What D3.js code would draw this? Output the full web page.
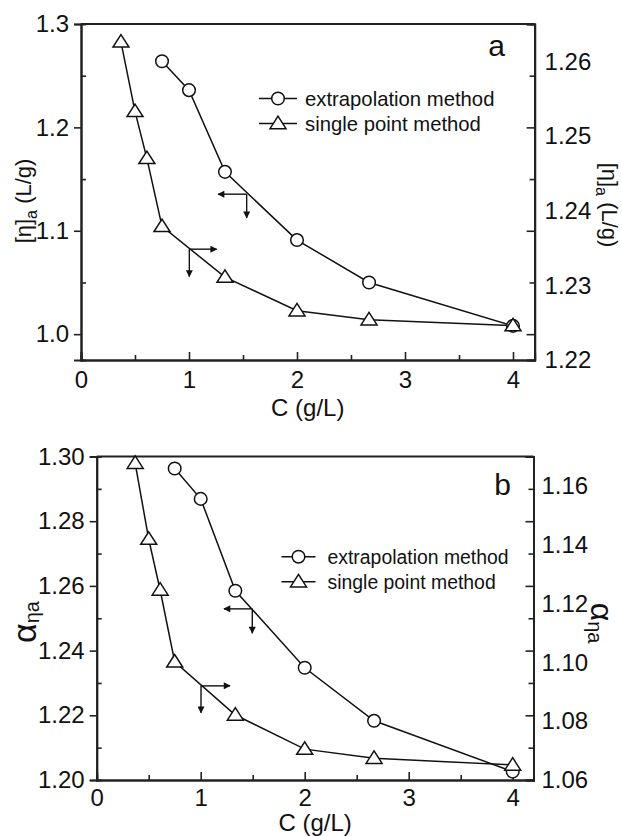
<!DOCTYPE html>
<html><head><meta charset="utf-8">
<script src="https://cdn.jsdelivr.net/npm/d3@7"></script>
<style>
body{margin:0;background:#fff}
svg{display:block}
text{font-family:"Liberation Sans",Arial,sans-serif;fill:#111}
</style></head>
<body><svg id="c" width="622" height="836"></svg>
<script>
// ---------- data ----------
const circleC = [0.75, 1.0, 1.333, 2.0, 2.667, 4.0];
const triC = [0.37, 0.5, 0.61, 0.75, 1.333, 2.0, 2.667, 4.0];
// panel a
const aExtrap = [1.264, 1.236, 1.157, 1.091, 1.050, 1.008];          // left axis
const aSingle = [1.2626, 1.2533, 1.2470, 1.2379, 1.2311, 1.2266, 1.2254, 1.2246]; // right axis
// panel b
const bExtrap = [1.2963, 1.2869, 1.2585, 1.2347, 1.2183, 1.2026];    // left axis
const bSingle = [1.1677, 1.1419, 1.1246, 1.1002, 1.0821, 1.0705, 1.0674, 1.0651]; // right axis
// ticks
const xTicks = [0, 1, 2, 3, 4];
const xMinor = [0.5, 1.5, 2.5, 3.5];
const aLeftMajor = [1.0, 1.1, 1.2, 1.3];
const aLeftMinor = [1.05, 1.15, 1.25];
const aRightLabels = [1.22, 1.23, 1.24, 1.25, 1.26];
const bLeftMajor = [1.20, 1.22, 1.24, 1.26, 1.28, 1.30];
const bLeftMinor = [1.21, 1.23, 1.25, 1.27, 1.29];
const bRightLabels = [1.06, 1.08, 1.10, 1.12, 1.14, 1.16];
const legendNames = ["extrapolation method", "single point method"];
// arrows (data units on x / left y): corner, horizontal end, vertical end
const aArrows = [
  {cx: 1.534, cy: 1.1354, hx: 1.269, vy: 1.1125},
  {cx: 1.003, cy: 1.0822, hx: 1.256, vy: 1.0557}
];
const bArrows = [
  {cx: 1.496, cy: 1.2529, hx: 1.224, vy: 1.2454},
  {cx: 1.003, cy: 1.2291, hx: 1.282, vy: 1.2208}
];

const svg = d3.select("#c");
const defs = svg.append("defs");
defs.append("marker").attr("id","ah").attr("viewBox","0 0 10 10").attr("refX",9).attr("refY",5)
  .attr("markerWidth",9).attr("markerHeight",7).attr("markerUnits","userSpaceOnUse").attr("orient","auto")
  .append("path").attr("d","M0,0 L10,5 L0,10 z").attr("fill","#111");

function triPath(x, y){ return `M${x},${y-7.3} L${x+8},${y+5.2} L${x-8},${y+5.2} Z`; }

function panel(o){
  const g = svg.append("g");
  const x = d3.scaleLinear().domain([0, 4.2]).range([o.x0, o.x1]);
  const yL = d3.scaleLinear().domain(o.yLdom).range([o.y1, o.y0]);
  const yR = d3.scaleLinear().domain(o.yRdom).range([o.y1, o.y0]);

  // x axis
  g.append("g").attr("transform",`translate(0,${o.y1})`)
    .call(d3.axisBottom(x).tickValues(xTicks).tickSize(-8).tickPadding(o.xpad).tickFormat(d3.format("d")));
  g.append("g").attr("transform",`translate(0,${o.y1})`)
    .call(d3.axisBottom(x).tickValues(xMinor).tickSize(-5).tickFormat(""));
  // left axis
  g.append("g").attr("transform",`translate(${o.x0},0)`)
    .call(d3.axisLeft(yL).tickValues(o.lMajor).tickSize(7).tickPadding(5).tickFormat(d3.format(o.lfmt)));
  g.append("g").attr("transform",`translate(${o.x0},0)`)
    .call(d3.axisLeft(yL).tickValues(o.lMinor).tickSize(-5).tickFormat(""));
  // right axis: tick marks mirror the left axis, labels from right scale
  g.append("g").attr("transform",`translate(${o.x1},0)`)
    .call(d3.axisRight(yL).tickValues(o.lMajor).tickSize(-8).tickFormat(""));
  g.append("g").attr("transform",`translate(${o.x1},0)`)
    .call(d3.axisRight(yL).tickValues(o.lMinor).tickSize(-5).tickFormat(""));
  g.append("g").attr("transform",`translate(${o.x1},0)`)
    .call(d3.axisRight(yR).tickValues(o.rLabels).tickSize(0).tickPadding(o.rpad).tickFormat(d3.format(".2f")));
  // top frame
  g.append("line").attr("x1",o.x0).attr("x2",o.x1).attr("y1",o.y0).attr("y2",o.y0)
    .attr("stroke","#222").attr("stroke-width",2);

  g.selectAll(".domain").attr("stroke","#222").attr("stroke-width",2);
  g.selectAll(".tick line").attr("stroke","#222").attr("stroke-width",1.6);
  g.selectAll(".tick text").attr("font-size",24).attr("fill","#111")
    .style("font-family","'Liberation Sans',Arial,sans-serif");

  // series lines
  const lineL = d3.line().x((d,i)=>x(circleC[i])).y(d=>yL(d));
  const lineR = d3.line().x((d,i)=>x(triC[i])).y(d=>yR(d));
  g.append("path").attr("d",lineL(o.extrap)).attr("fill","none").attr("stroke","#111").attr("stroke-width",1.5);
  g.append("path").attr("d",lineR(o.single)).attr("fill","none").attr("stroke","#111").attr("stroke-width",1.5);
  g.selectAll(".cm").data(o.extrap).join("circle").attr("cx",(d,i)=>x(circleC[i])).attr("cy",d=>yL(d))
    .attr("r",6.3).attr("fill","#fff").attr("stroke","#111").attr("stroke-width",1.5);
  g.selectAll(".tm").data(o.single).join("path").attr("d",(d,i)=>triPath(x(triC[i]), yR(d)))
    .attr("fill","#fff").attr("stroke","#111").attr("stroke-width",1.5);

  // arrows
  o.arrows.forEach(a=>{
    const cx=x(a.cx), cy=yL(a.cy);
    g.append("line").attr("x1",cx).attr("y1",cy).attr("x2",x(a.hx)).attr("y2",cy)
      .attr("stroke","#111").attr("stroke-width",1.4).attr("marker-end","url(#ah)");
    g.append("line").attr("x1",cx).attr("y1",cy).attr("x2",cx).attr("y2",yL(a.vy))
      .attr("stroke","#111").attr("stroke-width",1.4).attr("marker-end","url(#ah)");
  });

  // legend
  const L = o.leg;
  legendNames.forEach((nm,i)=>{
    const yy = L.y + i*L.dy;
    g.append("line").attr("x1",L.x).attr("x2",L.x+L.w).attr("y1",yy).attr("y2",yy)
      .attr("stroke","#111").attr("stroke-width",1.5);
    if(i===0) g.append("circle").attr("cx",L.x+L.w/2).attr("cy",yy).attr("r",6.3)
      .attr("fill","#fff").attr("stroke","#111").attr("stroke-width",1.5);
    else g.append("path").attr("d",triPath(L.x+L.w/2, yy)).attr("fill","#fff").attr("stroke","#111").attr("stroke-width",1.5);
    g.append("text").attr("x",L.tx).attr("y",yy+7).attr("font-size",L.fs).text(nm);
  });

  // panel letter
  g.append("text").attr("x",o.letter.x).attr("y",o.letter.y).attr("text-anchor","end")
    .attr("font-size",30).text(o.letter.t);

  // x title
  g.append("text").attr("x",(o.x0+o.x1)/2).attr("y",o.xtY).attr("text-anchor","middle")
    .attr("font-size",24).text("C (g/L)");
  return {x,yL,yR};
}

// panel a
panel({x0:81, x1:534.6, y0:24, y1:360, yLdom:[0.975,1.3], yRdom:[1.22,1.265],
  lMajor:aLeftMajor, lMinor:aLeftMinor, lfmt:".1f", rLabels:aRightLabels, rpad:10, xpad:11,
  extrap:aExtrap, single:aSingle, arrows:aArrows,
  leg:{x:259, w:38, y:98.5, dy:25, tx:305, fs:20.3},
  letter:{x:505, y:56, t:"a"}, xtY:416});

// panel b
panel({x0:96.7, x1:533.5, y0:456.5, y1:780, yLdom:[1.20,1.30], yRdom:[1.06,1.17],
  lMajor:bLeftMajor, lMinor:bLeftMinor, lfmt:".2f", rLabels:bRightLabels, rpad:8, xpad:9,
  extrap:bExtrap, single:bSingle, arrows:bArrows,
  leg:{x:281.5, w:34, y:556.7, dy:25, tx:327.5, fs:19.4},
  letter:{x:511, y:495, t:"b"}, xtY:831});

// y titles
function etaTitle(x, y, rot){
  const t = svg.append("text").attr("transform",`translate(${x},${y}) rotate(${rot})`)
    .attr("text-anchor","middle").attr("font-size",22);
  t.append("tspan").text("[η]");
  t.append("tspan").attr("font-size",16).attr("dy",6).text("a");
  t.append("tspan").attr("dy",-6).text(" (L/g)");
}
etaTitle(31, 201, -90);
etaTitle(601.5, 205, 90);
function alphaTitle(x, y, rot, fs){
  const t = svg.append("text").attr("transform",`translate(${x},${y}) rotate(${rot})`)
    .attr("text-anchor","middle").attr("font-size",fs);
  t.append("tspan").text("α");
  t.append("tspan").attr("font-size",20).attr("dy",3).text("ηa");
}
alphaTitle(36, 622, -90, 34);
alphaTitle(591, 623, 90, 32);
</script></body></html>
